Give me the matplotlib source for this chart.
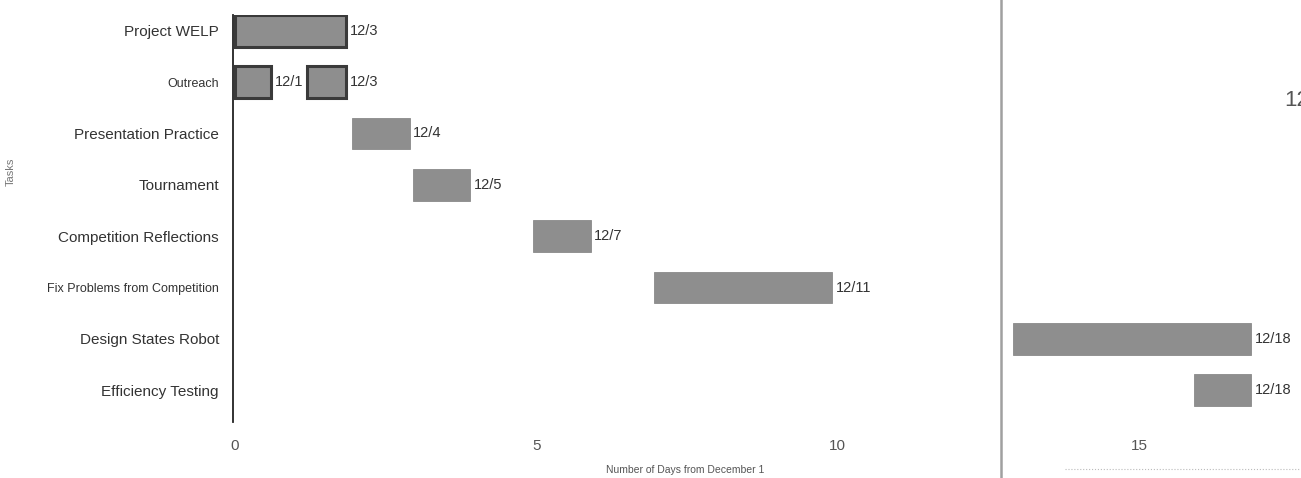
import matplotlib
matplotlib.use("Agg")
import matplotlib.pyplot as plt
from matplotlib.lines import Line2D

# tasks, top to bottom
tasks = [
    "Project WELP",
    "Outreach",
    "Presentation Practice",
    "Tournament",
    "Competition Reflections",
    "Fix Problems from Competition",
    "Design States Robot",
    "Efficiency Testing",
]

# one entry per bar (Outreach has two pieces)
bar_task = [0, 1, 1, 2, 3, 4, 5, 6, 7]
bar_start = [0.0, 0.0, 1.2, 1.95, 2.95, 4.95, 6.95, 12.9, 15.9]
bar_end = [1.85, 0.6, 1.85, 2.9, 3.9, 5.9, 9.9, 16.85, 16.85]
bar_label = ["12/3", "12/1", "12/3", "12/4", "12/5", "12/7", "12/11", "12/18", "12/18"]

x_ticks = [0, 5, 10, 15]

plt.rcParams["font.family"] = ["Liberation Sans", "DejaVu Sans"]

fig = plt.figure(figsize=(13.01, 4.78), dpi=100)
ax = fig.add_axes([0.179, 0.117, 0.821, 0.852])

for t, s, e, lab in zip(bar_task, bar_start, bar_end, bar_label):
    dark = t in (0, 1)
    ax.barh(t, e - s, left=s, height=0.62, color="#8e8e8e",
            edgecolor="#3a3a3a" if dark else "#8a8a8a",
            linewidth=2.2 if dark else 0.6)
    ax.text(e + 0.06, t, lab, va="center", ha="left",
            fontsize=10.5, color="#333333")

ax.set_xlim(-0.03, 17.68)
ax.set_ylim(7.62, -0.31)

ax.set_yticks(range(len(tasks)))
ax.set_yticklabels(tasks)
small = {"Outreach": 9, "Fix Problems from Competition": 9}
for lbl in ax.get_yticklabels():
    lbl.set_fontsize(small.get(lbl.get_text(), 11))
    lbl.set_color("#333333")

ax.set_xticks(x_ticks)
ax.set_xticklabels([str(v) for v in x_ticks], fontsize=11, color="#555555")
ax.tick_params(axis="both", length=0)
ax.tick_params(axis="y", pad=10)
ax.tick_params(axis="x", pad=12)

for side in ("top", "right", "bottom"):
    ax.spines[side].set_visible(False)
ax.spines["left"].set_color("#222222")
ax.spines["left"].set_linewidth(1.3)

ax.set_xlabel("Number of Days from December 1", fontsize=7.5, color="#555555")
ax.xaxis.set_label_coords(0.423, -0.105)
ax.set_ylabel("Tasks", fontsize=8, color="#777777")
ax.yaxis.set_label_coords(-0.203, 0.614)

# page fold of the scan
fig.add_artist(Line2D([1001 / 1301, 1001 / 1301], [0, 1],
                      color="#a0a0a0", linewidth=1.8))
fig.add_artist(Line2D([1065 / 1301, 1.0], [1 - 469 / 478, 1 - 469 / 478],
                      color="#bbbbbb", linewidth=0.8, linestyle=":"))
fig.text(1284 / 1301, 1 - 100 / 478, "12", fontsize=16, color="#555555",
         va="center", ha="left")

fig.savefig("out.png", dpi=100)
